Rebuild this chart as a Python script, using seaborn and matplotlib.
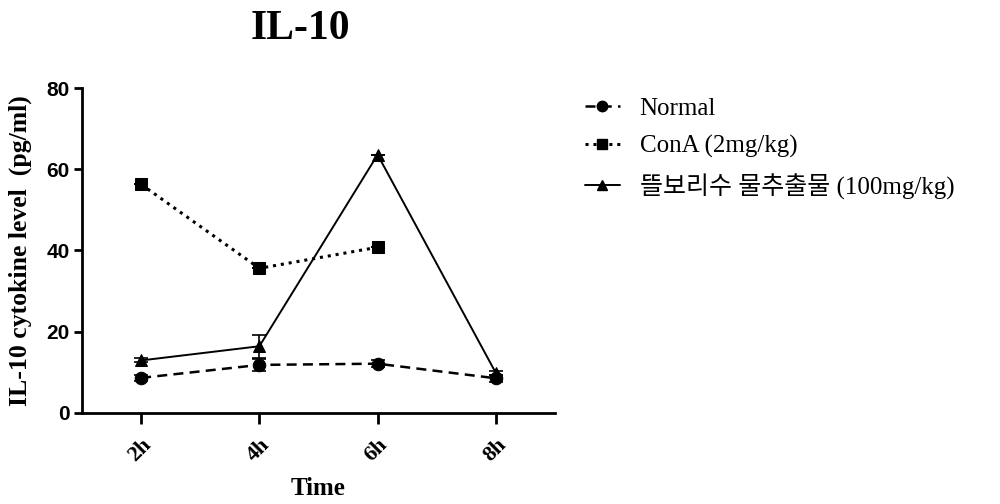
import numpy as np
import pandas as pd
import seaborn as sns
import matplotlib.pyplot as plt
from matplotlib.lines import Line2D

hours = [2, 4, 6, 8]
hour_labels = ["2h", "4h", "6h", "8h"]
normal = [8.6, 11.8, 12.1, 8.5]
normal_err = [0.8, 1.5, 0.8, 0.8]
cona = [56.3, 35.6, 40.8, np.nan]
cona_err = [0, 0, 0, 0]
extract = [12.9, 16.4, 63.6, 9.8]
extract_err = [0.5, 2.8, 0.0, 0.6]
series_names = ["Normal", "ConA (2mg/kg)", "뜰보리수 물추출물 (100mg/kg)"]

sns.set_style("ticks")
plt.rcParams['font.family'] = ['Liberation Serif', 'Noto Sans CJK KR']
for k in ["text.color", "axes.labelcolor", "xtick.color", "ytick.color", "axes.edgecolor"]:
    plt.rcParams[k] = "black"

fig = plt.figure(figsize=(10, 5.04), dpi=100)
ax = fig.add_axes([0.082, 0.181, 0.473, 0.644])

styles = [
    ("o", (0, (4, 2.5)), 1.8),
    ("s", (0, (1, 1.6)), 2.2),
    ("^", "-", 1.4),
]
data = [(normal, normal_err), (cona, cona_err), (extract, extract_err)]
handles = []
for name, (vals, errs), (mk, ls, lw) in zip(series_names, data, styles):
    df = pd.DataFrame({"Hour": hours, "Value": vals, "Err": errs}).dropna()
    sns.lineplot(data=df, x="Hour", y="Value", ax=ax, color="black",
                 marker=mk, markersize=9, markeredgecolor="black",
                 linestyle=ls, linewidth=lw, legend=False)
    ax.errorbar(df.Hour, df.Value, yerr=df.Err, fmt="none", ecolor="black",
                elinewidth=1.2, capsize=5, capthick=1.2)
    handles.append(Line2D([], [], color="black", marker=mk, markersize=7.5,
                          linestyle=ls, linewidth=lw, label=name))

ax.set_xlim(1, 9)
ax.set_ylim(0, 80)
ax.set_xticks(hours)
ax.set_xticklabels(hour_labels, rotation=45, ha="right", rotation_mode="anchor",
                   fontsize=16, fontweight="bold")
ax.set_yticks([0, 20, 40, 60, 80])
ax.set_yticklabels(["0", "20", "40", "60", "80"], family="Liberation Sans",
                   fontsize=15, fontweight="bold")
ax.tick_params(axis="x", length=8, width=2, pad=8)
ax.tick_params(axis="y", length=6, width=2, pad=3)
for s in ["left", "bottom"]:
    ax.spines[s].set_linewidth(2)
sns.despine(ax=ax)

ax.set_xlabel("Time", fontsize=18, fontweight="bold", labelpad=8)
ax.set_ylabel("IL-10 cytokine level  (pg/ml)", fontsize=18.5, fontweight="bold",
              labelpad=10)

ax.legend(handles=handles, loc="upper left", bbox_to_anchor=(1.015, 1.04),
          frameon=False, fontsize=18, handlelength=1.4, labelspacing=0.6,
          handletextpad=0.8)

fig.text(0.30, 0.942, "IL-10", ha="center", va="center", fontsize=30,
         fontweight="bold")

fig.savefig("out.png", dpi=100)
